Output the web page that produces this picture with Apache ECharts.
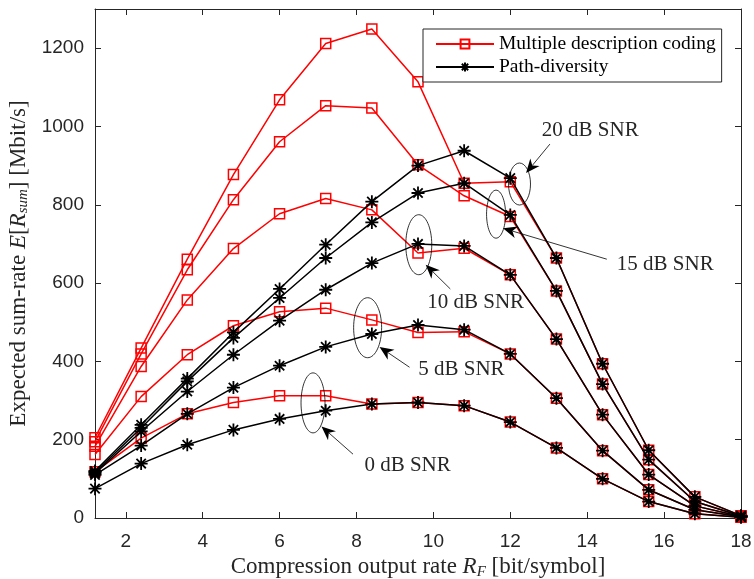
<!DOCTYPE html>
<html>
<head>
<meta charset="utf-8">
<script src="https://cdn.jsdelivr.net/npm/echarts@6/dist/echarts.min.js"></script>
<style>html,body{margin:0;padding:0;background:#fff}#c{width:754px;height:579px}</style>
</head>
<body>
<div id="c"></div>
<script>
// ---- data ----
const xValues = [1.2, 2.4, 3.6, 4.8, 6.0, 7.2, 8.4, 9.6, 10.8, 12.0, 13.2, 14.4, 15.6, 16.8, 18.0];
const snrLevels = ['20 dB', '15 dB', '10 dB', '5 dB', '0 dB'];
const mdc20 = [205, 434, 661, 877, 1068, 1212, 1249, 1114, 855, 859, 664, 394, 173, 54, 6];
const mdc15 = [195, 419, 634, 813, 961, 1053, 1047, 902, 823, 770, 580, 342, 149, 42, 5];
const mdc10 = [183, 387, 557, 688, 777, 816, 787, 677, 689, 621, 457, 264, 111, 31, 4];
const mdc5  = [162, 310, 417, 491, 527, 536, 506, 474, 476, 419, 306, 172, 72, 21, 3];
const mdc0  = [118, 204, 266, 295, 312, 312, 291, 295, 287, 245, 179, 100, 42, 11, 2];
const pd20 = [120, 238, 356, 474, 585, 698, 808, 900, 938, 868, 664, 394, 173, 54, 6];
const pd15 = [117, 230, 349, 460, 562, 664, 755, 830, 855, 774, 580, 342, 149, 42, 5];
const pd10 = [114, 221, 323, 417, 504, 583, 651, 700, 695, 621, 457, 264, 111, 31, 4];
const pd5  = [110, 185, 266, 333, 389, 437, 470, 493, 481, 419, 306, 172, 72, 21, 3];
const pd0  = [75, 139, 187, 225, 253, 274, 291, 295, 287, 245, 179, 100, 42, 11, 2];
const xTicks = [2, 4, 6, 8, 10, 12, 14, 16, 18];
const yTicks = [0, 200, 400, 600, 800, 1000, 1200];
const seriesNames = ['Multiple description coding', 'Path-diversity'];
// annotation anchors (data coordinates)
const annoLabels = ['20 dB SNR', '15 dB SNR', '10 dB SNR', '5 dB SNR', '0 dB SNR'];
const annoText   = [[14.08, 989], [16.03, 647], [11.10, 550], [10.73, 379], [9.33, 134]];
const annoFrom   = [[13.03, 955], [14.51, 661], [10.44, 585], [9.38, 385], [7.91, 163]];
const annoTip    = [[12.41, 881], [11.81, 740], [9.80, 647], [8.60, 437], [7.09, 234]];
const ellCenter  = [[12.24, 853], [11.63, 776], [9.62, 698], [8.29, 486], [6.87, 294]];
const ellRadius  = [[11, 21], [9.5, 24], [13, 30], [14, 30], [12, 30]];

const mdcSets = [mdc20, mdc15, mdc10, mdc5, mdc0];
const pdSets = [pd20, pd15, pd10, pd5, pd0];

const AX = '#262626';
const SERIF = '"Liberation Serif", "DejaVu Serif", serif';
const SANS = '"Liberation Sans", Arial, sans-serif';
const asterisk = 'path://M0,-5L0,5M-5,0L5,0M-3.6,-3.6L3.6,3.6M-3.6,3.6L3.6,-3.6';

const zip = (arr) => xValues.map((x, i) => [x, arr[i]]);

const series = [];
mdcSets.forEach((d) => series.push({
  name: seriesNames[0], type: 'line', data: zip(d), z: 2,
  symbol: 'rect', symbolSize: 10,
  lineStyle: { color: '#ff0000', width: 1.5 },
  itemStyle: { color: 'rgba(255,255,255,0)', borderColor: '#ff0000', borderWidth: 1.5 },
  emphasis: { disabled: true }, animation: false
}));
pdSets.forEach((d) => series.push({
  name: seriesNames[1], type: 'line', data: zip(d), z: 3,
  symbol: asterisk, symbolSize: 13, symbolKeepAspect: true,
  lineStyle: { color: '#000', width: 1.5 },
  itemStyle: { color: 'rgba(0,0,0,0)', borderColor: '#000', borderWidth: 1.8 },
  emphasis: { disabled: true }, animation: false
}));

const chart = echarts.init(document.getElementById('c'), null, { renderer: 'canvas' });
const axisCommon = {
  axisLine: { show: true, onZero: false, lineStyle: { color: AX, width: 1 } },
  splitLine: { show: false },
  axisTick: { show: true, inside: true, length: 6, lineStyle: { color: AX } }
};
const nameRich = {
  n: { fontFamily: SERIF, fontSize: 23, color: AX },
  i: { fontFamily: SERIF, fontSize: 23, fontStyle: 'italic', color: AX },
  s: { fontFamily: SERIF, fontSize: 15, fontStyle: 'italic', color: AX, padding: [9, 0, 0, 0] }
};
chart.setOption({
  animation: false,
  backgroundColor: '#fff',
  grid: { left: 95, right: 13, top: 9, bottom: 61, containLabel: false, outerBoundsMode: 'none' },
  legend: {
    data: [seriesNames[0], seriesNames[1]],
    orient: 'vertical', left: 423, top: 29,
    itemWidth: 58, itemHeight: 11, itemGap: 3,
    padding: [5, 6, 5, 12],
    borderColor: AX, borderWidth: 1, backgroundColor: '#fff',
    textStyle: { fontFamily: SERIF, fontSize: 19.5, color: '#000' },
    selectedMode: false
  },
  xAxis: [
    Object.assign({}, axisCommon, {
      type: 'value', min: 1.2, max: 18, position: 'bottom',
      axisTick: Object.assign({}, axisCommon.axisTick, { customValues: xTicks }),
      axisLabel: { customValues: xTicks, color: AX, fontFamily: SANS, fontSize: 19, margin: 14 },
      name: '{n|Compression output rate }{i|R}{s|F}{n| [bit/symbol]}',
      nameLocation: 'middle', nameGap: 37,
      nameTextStyle: { rich: nameRich }
    }),
    Object.assign({}, axisCommon, {
      type: 'value', min: 1.2, max: 18, position: 'top',
      axisTick: Object.assign({}, axisCommon.axisTick, { customValues: xTicks }),
      axisLabel: { show: false }
    })
  ],
  yAxis: [
    Object.assign({}, axisCommon, {
      type: 'value', min: 0, max: 1300, position: 'left',
      axisTick: Object.assign({}, axisCommon.axisTick, { customValues: yTicks }),
      axisLabel: { customValues: yTicks, formatter: (v) => String(v), color: AX, fontFamily: SANS, fontSize: 19, margin: 11 },
      name: '{n|Expected sum-rate }{i|E}{n|[}{i|R}{s|sum}{n|] [Mbit/s]}',
      nameLocation: 'middle', nameGap: 64, nameRotate: 90,
      nameTextStyle: { rich: nameRich }
    }),
    Object.assign({}, axisCommon, {
      type: 'value', min: 0, max: 1300, position: 'right',
      axisTick: Object.assign({}, axisCommon.axisTick, { customValues: yTicks }),
      axisLabel: { show: false }
    })
  ],
  series: series
});

// annotations: ellipses, arrows, labels placed via data coordinates
function px(p) { return chart.convertToPixel({ gridIndex: 0 }, p); }
const graphics = [];
annoLabels.forEach((lab, i) => {
  const c = px(ellCenter[i]);
  graphics.push({ type: 'ellipse', shape: { cx: c[0], cy: c[1], rx: ellRadius[i][0], ry: ellRadius[i][1] },
    style: { fill: 'none', stroke: '#000', lineWidth: 0.8 }, z: 10 });
  const a = px(annoFrom[i]), b = px(annoTip[i]);
  const dx = b[0] - a[0], dy = b[1] - a[1], L = Math.hypot(dx, dy);
  const ux = dx / L, uy = dy / L, nx = -uy, ny = ux;
  const hl = 14, hw = 6;
  const base = [b[0] - ux * hl, b[1] - uy * hl];
  const notch = [b[0] - ux * hl * 0.7, b[1] - uy * hl * 0.7];
  graphics.push({ type: 'line', shape: { x1: a[0], y1: a[1], x2: notch[0], y2: notch[1] },
    style: { stroke: '#000', lineWidth: 0.8 }, z: 10 });
  graphics.push({ type: 'polygon', shape: { points: [b, [base[0] + nx * hw, base[1] + ny * hw], notch, [base[0] - nx * hw, base[1] - ny * hw]] },
    style: { fill: '#000' }, z: 10 });
  const t = px(annoText[i]);
  graphics.push({ type: 'text', x: t[0], y: t[1], z: 10,
    style: { text: lab, font: '21px ' + SERIF, fill: AX, align: 'center', verticalAlign: 'middle' } });
});
chart.setOption({ graphic: graphics });
</script>
</body>
</html>
